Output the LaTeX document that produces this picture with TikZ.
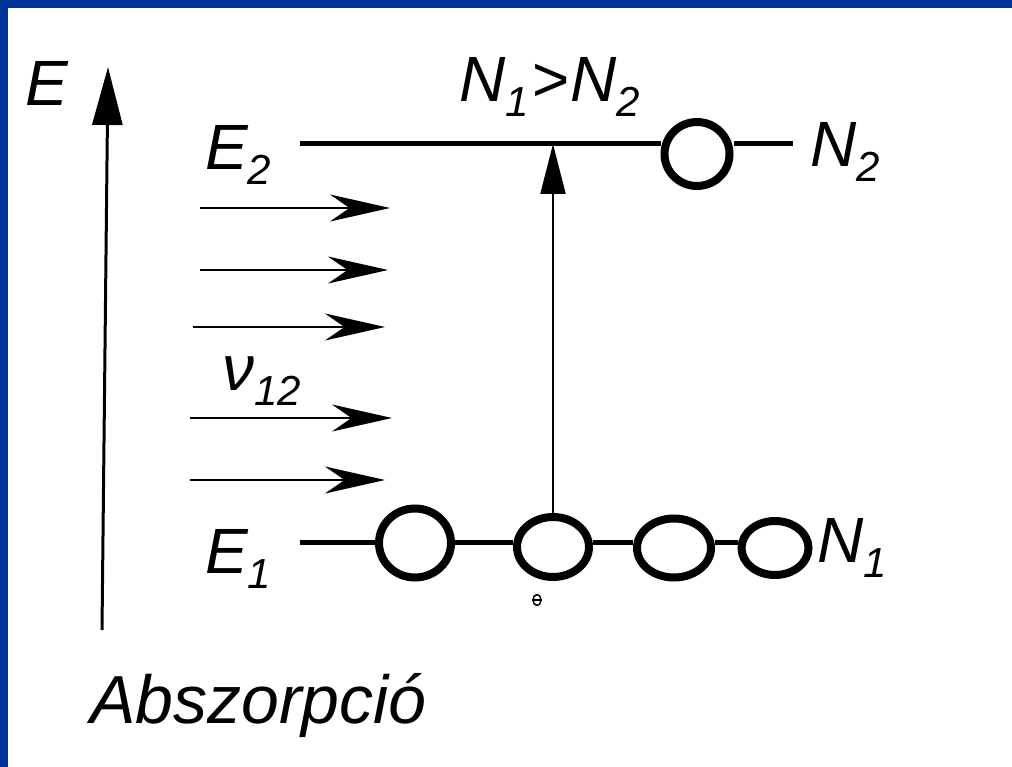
\documentclass[tikz,border=0pt]{standalone}
\usepackage{fontspec}
\setmainfont{Liberation Sans}
\usetikzlibrary{arrows.meta,shapes.geometric}
\definecolor{frameblue}{RGB}{0,51,153}
\newcommand\lsub[1]{\raisebox{-15pt}{\fontsize{42}{42}\selectfont #1}}
\begin{document}
\begin{tikzpicture}[x=1pt,y=-1pt,
  lbl/.style={font=\fontsize{64}{66}\selectfont\itshape, inner sep=0pt, anchor=base west},
  caplbl/.style={font=\fontsize{68}{70}\selectfont\itshape, inner sep=0pt, anchor=base west},
  lvl/.style={line width=5pt},
  atom/.style={draw, ellipse, line width=8pt, inner sep=0pt, fill=white},
  photon/.style={line width=2.2pt, -{Stealth[length=60pt,width=27pt]}},
  axis/.style={line width=3pt, -{Triangle[length=58pt,width=30pt]}},
  trans/.style={line width=2.2pt, -{Triangle[length=50pt,width=25pt]}}
]
\useasboundingbox (0,0) rectangle (1012,767);
\fill[white] (0,0) rectangle (1012,767);
\fill[frameblue] (0,0) rectangle (1012,8);
\fill[frameblue] (0,0) rectangle (8,767);

% energy axis
\coordinate (eaxb) at (102,630);
\coordinate (eaxt) at (108,67);
\draw[axis] (eaxb) -- (eaxt);
\node[lbl] (lE) at (25,106) {E};

% upper level
\coordinate (t0) at (300,144);
\coordinate (t1) at (793,144);
\node[atom, minimum width=65pt, minimum height=64pt] (ct) at (697,154) {};
\draw[lvl] (t0) -- (t0 -| ct.west);
\draw[lvl] (ct.east |- t0) -- (t1);
\node[lbl] (lE2) at (205,170) {E\lsub{2}};
\node[lbl] (lN2) at (810,167) {N\lsub{2}};
\node[lbl, anchor=base] (lcmp) at (550,102) {N\lsub{1}\kern2pt>\kern2pt N\lsub{2}};

% lower level
\coordinate (b0) at (300,542);
\node[atom, minimum width=72pt, minimum height=69pt] (c1) at (415,543) {};
\node[atom, minimum width=72pt, minimum height=60pt] (c2) at (553,547) {};
\node[atom, minimum width=74pt, minimum height=59pt] (c3) at (674,548) {};
\node[atom, minimum width=67pt, minimum height=54pt] (c4) at (775,548) {};
\draw[lvl] (b0) -- (b0 -| c1.west);
\draw[lvl] (c1.east |- b0) -- (b0 -| c2.west);
\draw[lvl] (c2.east |- b0) -- (b0 -| c3.west);
\draw[lvl] (c3.east |- b0) -- (b0 -| c4.west);
\node[lbl] (lE1) at (205,573) {E\lsub{1}};
\node[lbl] (lN1) at (817,562) {N\lsub{1}};

% transition arrow
\draw[trans] (c2.north) -- (c2.north |- t0);

% small mark below
\node[draw, ellipse, line width=1.5pt, minimum width=8pt, minimum height=11pt, inner sep=0pt] (mk) at (537,600) {};
\draw[line width=1.5pt] (mk.west) -- (mk.east);

% photons
\coordinate (a1s) at (200,208); \coordinate (a1e) at (390,208);
\coordinate (a2s) at (200,270); \coordinate (a2e) at (388,270);
\coordinate (a3s) at (193,327); \coordinate (a3e) at (385,327);
\coordinate (a4s) at (190,418); \coordinate (a4e) at (392,418);
\coordinate (a5s) at (190,480); \coordinate (a5e) at (385,480);
\draw[photon] (a1s) -- (a1e);
\draw[photon] (a2s) -- (a2e);
\draw[photon] (a3s) -- (a3e);
\draw[photon] (a4s) -- (a4e);
\draw[photon] (a5s) -- (a5e);
\node[lbl] (lnu) at (222,390) {ν\lsub{12}};

% caption
\node[caplbl] (cap) at (90,723) {Abszorpció};
\end{tikzpicture}
\end{document}
